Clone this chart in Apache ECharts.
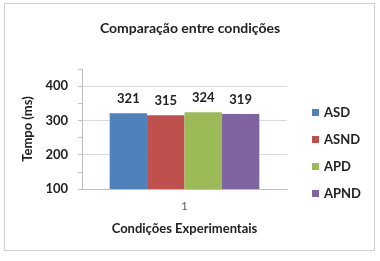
<!DOCTYPE html>
<html><head><meta charset="utf-8">
<script src="https://cdn.jsdelivr.net/npm/echarts@6/dist/echarts.min.js"></script>
<style>
html,body{margin:0;padding:0;background:#fff;}
#frame{position:absolute;left:4px;top:3px;width:371px;height:248px;border:1px solid #d0d0d0;box-sizing:border-box;}
#c{position:absolute;left:0;top:0;width:380px;height:261px;}
</style></head>
<body><div id="frame"></div><div id="c"></div>
<script>
const categories = ['1'];
const seriesNames = ['ASD', 'ASND', 'APD', 'APND'];
const seriesValues = [[321], [315], [324], [319]];
const colors = ['#4F81BD', '#C0504D', '#9BBB59', '#8064A2'];
const yMin = 100, yMax = 450, yStep = 50;

const font = 'Lato, "Liberation Sans", sans-serif';
const chart = echarts.init(document.getElementById('c'));
chart.setOption({
  animation: false,
  title: {text: 'Comparação entre condições', left: 'center', top: 16,
    textStyle: {fontFamily: font, fontWeight: 'bold', fontSize: 14, color: '#222'}},
  grid: {left: 82, right: 93, top: 69, bottom: 72},
  legend: {orient: 'vertical', left: 307, top: 101, itemGap: 14, itemWidth: 7, itemHeight: 7,
    icon: 'rect', data: seriesNames,
    textStyle: {fontFamily: font, fontWeight: 'bold', fontSize: 13, color: '#222'}},
  xAxis: {type: 'category', data: categories,
    name: 'Condições Experimentais', nameLocation: 'middle', nameGap: 33,
    nameTextStyle: {fontFamily: font, fontWeight: 'bold', fontSize: 13, color: '#222'},
    axisLine: {lineStyle: {color: '#bfbfbf'}}, axisTick: {show: false},
    axisLabel: {fontFamily: font, fontSize: 11, color: '#555', margin: 12}},
  yAxis: {type: 'value', min: yMin, max: yMax, interval: yStep,
    name: 'Tempo (ms)', nameLocation: 'middle', nameGap: 47,
    nameTextStyle: {fontFamily: font, fontWeight: 'bold', fontSize: 13, color: '#222'},
    axisLine: {show: true, lineStyle: {color: '#bfbfbf'}},
    axisTick: {show: true, length: 4, lineStyle: {color: ['#bfbfbf', 'rgba(0,0,0,0)']}},
    axisLabel: {fontFamily: font, fontWeight: 'bold', fontSize: 13, color: '#222', margin: 14,
      formatter: v => (v % 100 === 0 && v < yMax) ? String(v) : ''},
    splitLine: {lineStyle: {color: ['#d9d9d9', 'rgba(0,0,0,0)']}}},
  series: seriesNames.map((n, i) => ({
    name: n, type: 'bar', data: seriesValues[i], barGap: '0%', barCategoryGap: '27%',
    itemStyle: {color: colors[i]},
    label: {show: true, position: 'top', distance: 8, fontFamily: font, fontWeight: 'bold',
      fontSize: 13, color: '#222'}
  }))
});
</script></body></html>
